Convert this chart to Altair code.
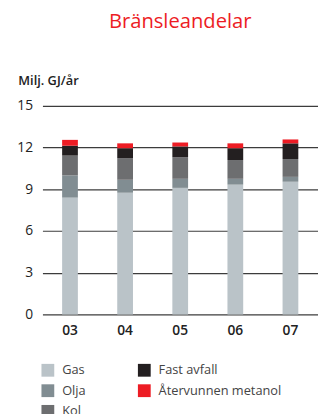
import altair as alt
import pandas as pd

years = ["03", "04", "05", "06", "07"]
gas = [8.4, 8.75, 9.1, 9.33, 9.54]
olja = [1.6, 0.93, 0.65, 0.42, 0.35]
kol = [1.42, 1.56, 1.55, 1.35, 1.28]
fast_avfall = [0.71, 0.71, 0.78, 0.85, 1.13]
metanol = [0.42, 0.35, 0.28, 0.35, 0.28]

series = ["Gas", "Olja", "Kol", "Fast avfall", "Återvunnen metanol"]
colors = ["#bac3c8", "#818d92", "#6d6e70", "#231f20", "#ed1c24"]
values = [gas, olja, kol, fast_avfall, metanol]

rows = []
for si, (name, vals) in enumerate(zip(series, values)):
    for y, v in zip(years, vals):
        rows.append({"År": y, "Bränsle": name, "Värde": v, "ordning": si})
df = pd.DataFrame(rows)

FONT = "Open Sans"

chart = alt.Chart(df).mark_bar(size=16).encode(
    x=alt.X("År:N", sort=years,
            scale=alt.Scale(paddingInner=0, paddingOuter=0),
            axis=alt.Axis(title=None, labelAngle=0, ticks=False, domain=False,
                          labelPadding=9, labelFontSize=14, labelFontWeight=600,
                          labelColor="#222", labelFont=FONT)),
    y=alt.Y("Värde:Q", stack="zero",
            scale=alt.Scale(domain=[0, 15], nice=False),
            axis=alt.Axis(values=[0, 3, 6, 9, 12, 15], ticks=False, domain=False,
                          labelPadding=10, labelFontSize=14, labelColor="#222",
                          labelFont=FONT,
                          grid=True, gridColor="#3c3c3c", gridWidth=1.2,
                          title="Milj. GJ/år", titleAngle=0, titleAlign="left",
                          titleBaseline="alphabetic", titleX=-25, titleY=-22,
                          titleFontSize=13, titleFontWeight=600,
                          titleColor="#222", titleFont=FONT)),
    color=alt.Color("Bränsle:N",
                    scale=alt.Scale(domain=series, range=colors),
                    legend=alt.Legend(title=None, orient="none", legendX=-1,
                                      legendY=262, columns=2, direction="vertical",
                                      symbolType="square", symbolSize=169,
                                      symbolStrokeWidth=0, symbolOpacity=1,
                                      columnPadding=53, rowPadding=7,
                                      labelFontSize=13, labelColor="#444",
                                      labelFont=FONT, labelOffset=8,
                                      labelLimit=200)),
    order=alt.Order("ordning:Q", sort="ascending"),
).properties(
    width=280,
    height=212,
    title=alt.TitleParams("Bränsleandelar", color="#ed1c24", fontSize=20.5,
                          fontWeight="normal", font=FONT, anchor="middle",
                          frame="group", offset=43),
    autosize=alt.AutoSizeParams(type="none"),
    padding={"left": 35, "top": 96, "right": 0, "bottom": 110},
).configure_view(stroke=None)

chart.save("out.html", embed_options={"renderer": "svg", "actions": False})
